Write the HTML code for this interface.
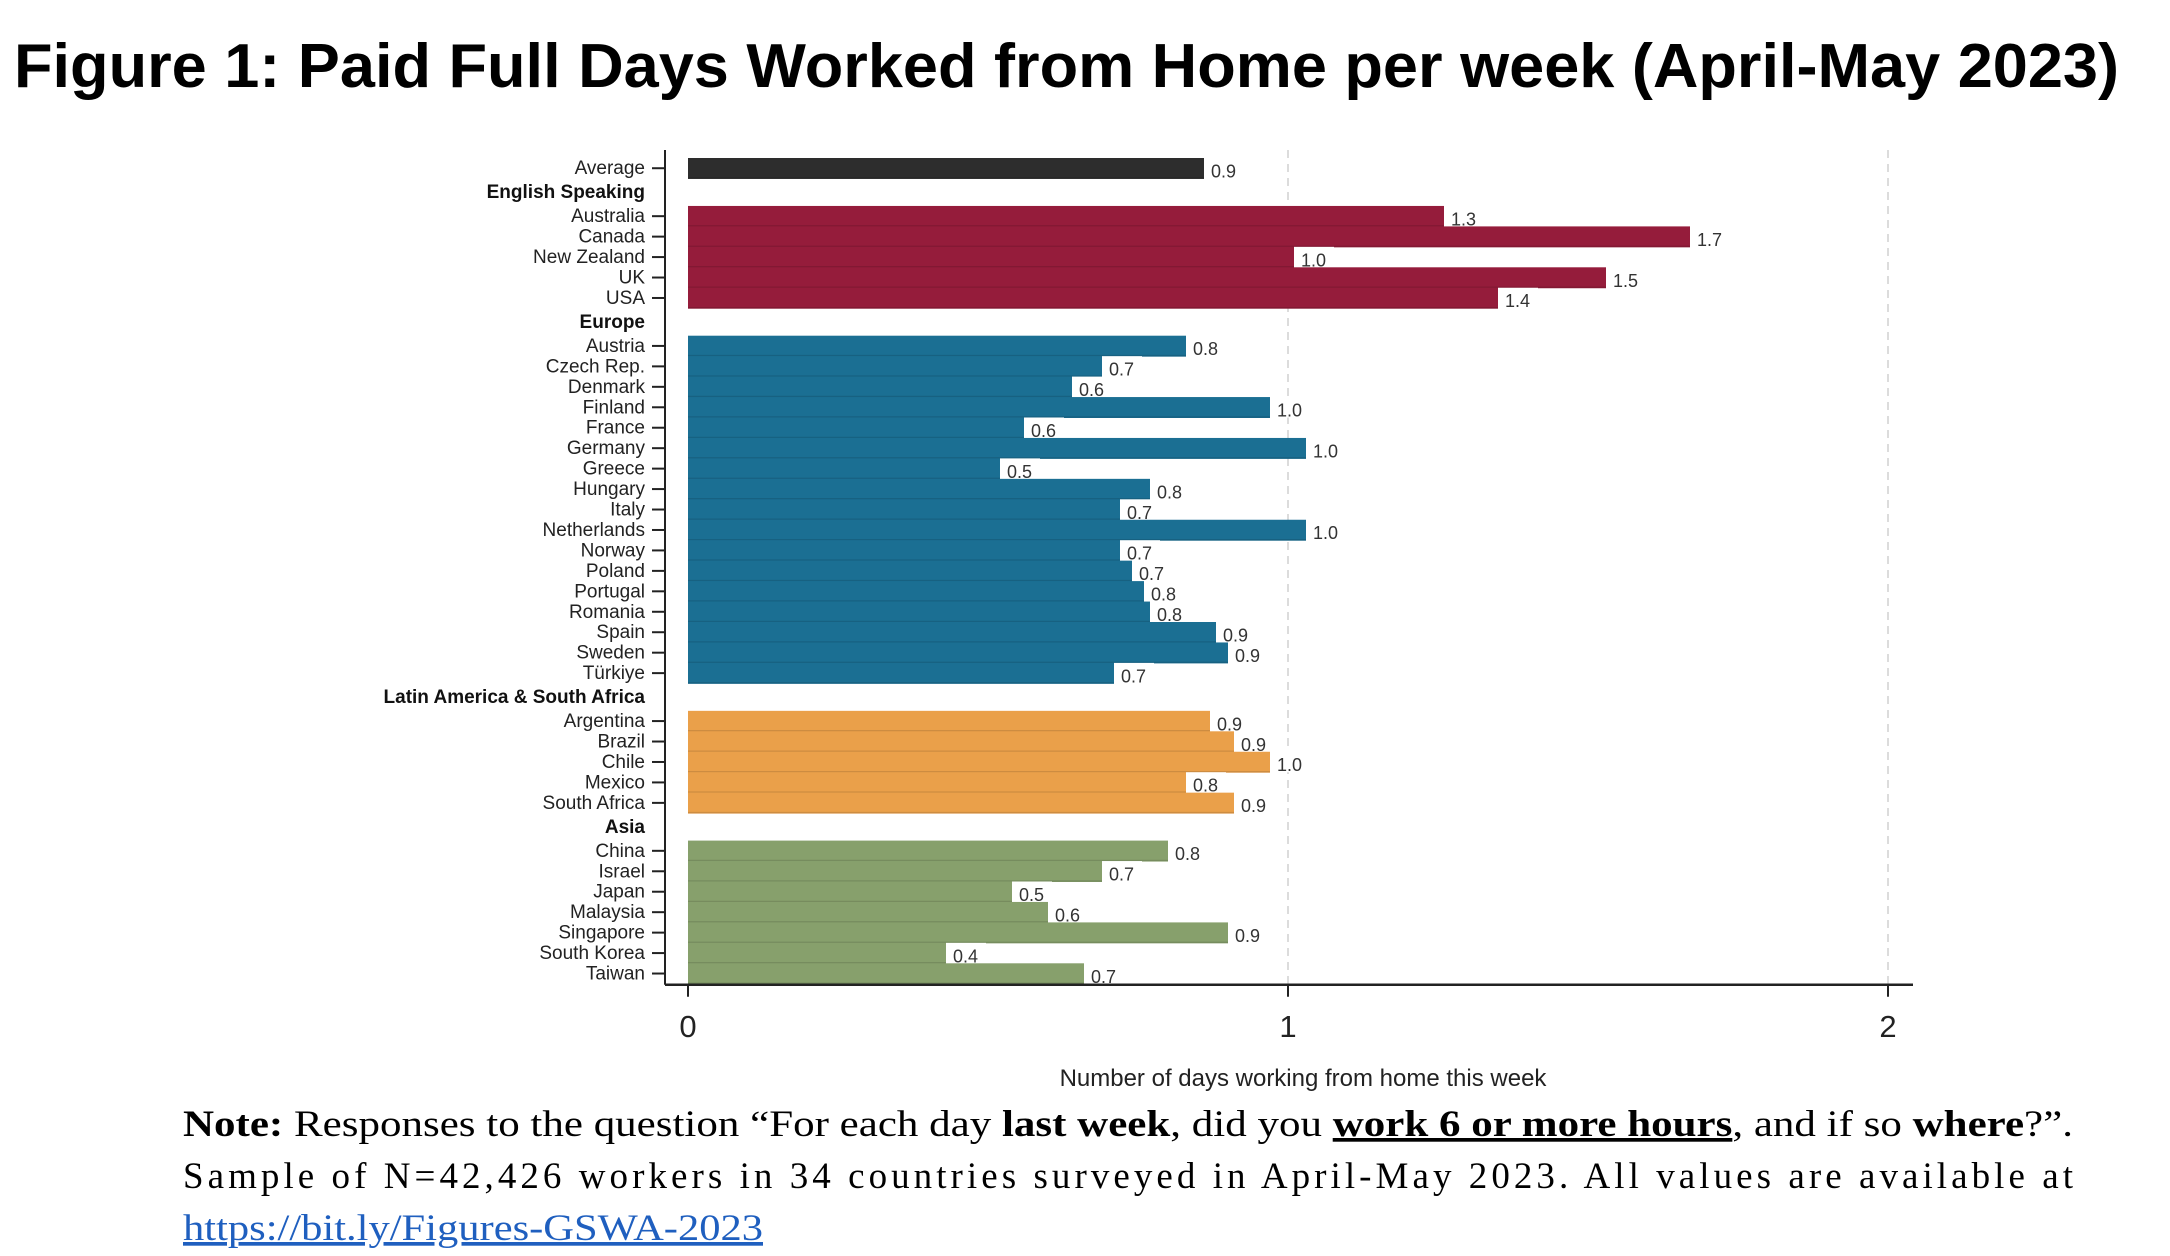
<!DOCTYPE html>
<html><head><meta charset="utf-8"><style>
html,body{margin:0;padding:0;background:#fff;}
svg{display:block;}
</style></head><body>
<svg id="chart" width="2170" height="1256" viewBox="0 0 2170 1256" xmlns="http://www.w3.org/2000/svg">
<rect width="2170" height="1256" fill="#fff"/>
<text x="14" y="87" font-family="Liberation Sans, sans-serif" font-weight="bold" font-size="62" textLength="2105" lengthAdjust="spacingAndGlyphs">Figure 1: Paid Full Days Worked from Home per week (April-May 2023)</text>
<g id="grid"></g>
<g id="bars"></g>
<g id="axes"></g>
<g font-family="Liberation Serif, serif" font-size="37">
<text x="183" y="1136" textLength="1890" lengthAdjust="spacingAndGlyphs"><tspan font-weight="bold">Note:</tspan> Responses to the question “For each day <tspan font-weight="bold">last week</tspan>, did you <tspan font-weight="bold" text-decoration="underline">work 6 or more hours</tspan>, and if so <tspan font-weight="bold">where</tspan>?”.</text>
<text x="183" y="1188" textLength="1890" lengthAdjust="spacing">Sample of N=42,426 workers in 34 countries surveyed in April-May 2023. All values are available at</text>
<text x="183" y="1240" fill="#1f5fbf" text-decoration="underline" textLength="580" lengthAdjust="spacingAndGlyphs">https://bit.ly/Figures-GSWA-2023</text>
</g>
</svg>
<script>
const categories = ["Average","Australia","Canada","New Zealand","UK","USA","Austria","Czech Rep.","Denmark","Finland","France","Germany","Greece","Hungary","Italy","Netherlands","Norway","Poland","Portugal","Romania","Spain","Sweden","Türkiye","Argentina","Brazil","Chile","Mexico","South Africa","China","Israel","Japan","Malaysia","Singapore","South Korea","Taiwan"];
const values = [0.86,1.26,1.67,1.01,1.53,1.35,0.83,0.69,0.64,0.97,0.56,1.03,0.52,0.77,0.72,1.03,0.72,0.74,0.76,0.77,0.88,0.9,0.71,0.87,0.91,0.97,0.83,0.91,0.8,0.69,0.54,0.6,0.9,0.43,0.66];
const valueLabels = ["0.9","1.3","1.7","1.0","1.5","1.4","0.8","0.7","0.6","1.0","0.6","1.0","0.5","0.8","0.7","1.0","0.7","0.7","0.8","0.8","0.9","0.9","0.7","0.9","0.9","1.0","0.8","0.9","0.8","0.7","0.5","0.6","0.9","0.4","0.7"];
const groups = ["avg","eng","eng","eng","eng","eng","eu","eu","eu","eu","eu","eu","eu","eu","eu","eu","eu","eu","eu","eu","eu","eu","eu","lat","lat","lat","lat","lat","asia","asia","asia","asia","asia","asia","asia"];
const groupNames = ["English Speaking","Europe","Latin America & South Africa","Asia"];
const groupKeys = ["eng","eu","lat","asia"];
const xTicks = [0,1,2];

const NS="http://www.w3.org/2000/svg";
const colors={avg:"#2d2d2d",eng:"#951c3b",eu:"#1b6f93",lat:"#eaa04a",asia:"#87a06c"};
const X0=688, UNIT=600, PITCH=20.45, GAP=27.5, TOP=158;
function xs(v){return X0+v*UNIT;}
// compute row tops
const rowTop=[]; let y=TOP; let prev=null; const headerY={};
for(let i=0;i<categories.length;i++){
  if(prev!==null && groups[i]!==prev){ headerY[groups[i]]=y+GAP/2; y+=GAP; }
  rowTop.push(y); y+=PITCH; prev=groups[i];
}
const axisY=rowTop[rowTop.length-1]+PITCH+1;
function mk(tag,attrs,parent){const e=document.createElementNS(NS,tag);for(const k in attrs)e.setAttribute(k,attrs[k]);parent.appendChild(e);return e;}
const grid=document.getElementById('grid'), bars=document.getElementById('bars'), axes=document.getElementById('axes');
xTicks.forEach(t=>{ if(t>0){const l=mk('line',{x1:xs(t),x2:xs(t),y1:150,y2:axisY,stroke:'#dcdcdc','stroke-width':2,'stroke-dasharray':'8,6'},grid);

}});
for(let i=0;i<categories.length;i++){
  const t=rowTop[i], w=xs(values[i])-X0;
  const r=mk('rect',{x:X0,y:t,width:w,height:PITCH+0.5,fill:colors[groups[i]]},bars);
  
  
  mk('line',{x1:X0,x2:X0+w,y1:t+PITCH-0.5,y2:t+PITCH-0.5,stroke:'rgba(0,0,0,0.12)','stroke-width':1.5},bars);
  const bg=mk('rect',{x:X0+w,y:t,width:40,height:PITCH,fill:'#fff'},bars);
  const vt=mk('text',{x:X0+w+7,y:t+PITCH-1,'font-family':'Liberation Sans, sans-serif','font-size':18,fill:'#333'},bars);
  vt.textContent=valueLabels[i];
  
  
  const lb=mk('text',{x:645,y:t+PITCH/2+6,'text-anchor':'end','font-family':'Liberation Sans, sans-serif','font-size':19,fill:'#222'},axes);
  lb.textContent=categories[i];
  
  
  mk('line',{x1:652,x2:665,y1:t+PITCH/2,y2:t+PITCH/2,stroke:'#222','stroke-width':2},axes);
}
groupKeys.forEach((g,k)=>{
  const h=mk('text',{x:645,y:headerY[g]+6,'text-anchor':'end','font-family':'Liberation Sans, sans-serif','font-size':19,'font-weight':'bold',fill:'#111'},axes);
  h.textContent=groupNames[k];
  
  
});
const ya=mk('line',{x1:665,x2:665,y1:150,y2:axisY,stroke:'#222','stroke-width':2},axes);


const xa=mk('line',{x1:665,x2:1913,y1:axisY,y2:axisY,stroke:'#222','stroke-width':2.5},axes);


xTicks.forEach(t=>{
  mk('line',{x1:xs(t),x2:xs(t),y1:axisY,y2:axisY+12,stroke:'#222','stroke-width':2},axes);
  const tl=mk('text',{x:xs(t),y:axisY+52,'text-anchor':'middle','font-family':'Liberation Sans, sans-serif','font-size':31,fill:'#222'},axes);
  tl.textContent=String(t);
  
  
});
const at=mk('text',{x:1303,y:1086,'text-anchor':'middle','font-family':'Liberation Sans, sans-serif','font-size':24,fill:'#222'},axes);
at.textContent='Number of days working from home this week';


</script>
</body></html>
